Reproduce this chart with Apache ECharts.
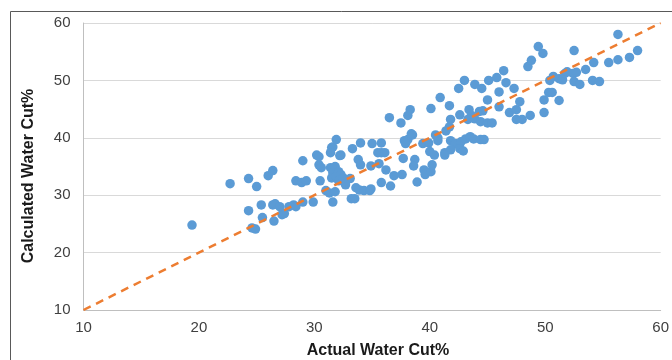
<!DOCTYPE html>
<html>
<head>
<meta charset="utf-8">
<script src="https://cdn.jsdelivr.net/npm/echarts@6/dist/echarts.min.js"></script>
<style>
  html, body { margin: 0; padding: 0; background: #ffffff; }
  #chart { width: 672px; height: 360px; }
</style>
</head>
<body>
<div id="chart"></div>
<script>
// Measured water cut (%) for each sample
const actualCut = [
  19.4, 22.7, 24.3, 25.0, 26.0, 26.4, 24.3, 25.4, 25.5, 24.6, 24.9, 26.4, 26.6, 27.0, 26.5, 27.2, 27.4, 27.8, 28.2, 28.4,
  28.4, 28.9, 29.3, 29.0, 29.0, 29.9, 30.2, 30.4, 30.4, 30.6, 30.5, 31.5, 31.6, 31.4, 31.9, 32.3, 33.3, 31.0, 31.3, 31.6,
  31.8, 31.4, 31.6, 31.8, 32.1, 31.5, 31.9, 32.3, 32.1, 32.7, 33.1, 32.7, 33.2, 33.5, 33.6, 33.8, 32.2, 32.5, 34.0, 35.0,
  34.0, 33.9, 34.3, 34.8, 35.5, 35.8, 36.1, 35.6, 35.8, 34.9, 36.2, 35.8, 36.6, 36.9, 37.6, 36.5, 37.5, 38.1, 38.3, 40.1,
  37.7, 37.8, 38.1, 38.5, 38.7, 38.6, 38.9, 39.4, 39.9, 39.5, 39.6, 40.1, 40.2, 40.0, 40.4, 40.5, 40.7, 41.3, 34.9, 37.9,
  38.4, 40.7, 40.9, 41.7, 42.5, 43.0, 43.9, 44.5, 45.1, 45.8, 46.4, 46.6, 46.0, 47.3, 45.0, 46.0, 42.6, 43.4, 43.6, 44.3,
  44.6, 43.3, 43.9, 44.4, 45.0, 45.4, 41.8, 41.7, 41.4, 41.8, 42.2, 42.7, 43.1, 43.5, 43.8, 44.4, 44.7, 41.8, 41.3, 42.6,
  42.9, 46.9, 47.5, 47.8, 47.5, 48.0, 48.7, 48.5, 48.8, 49.4, 49.8, 49.9, 50.3, 50.6, 51.2, 49.9, 50.4, 50.7, 51.2, 51.5,
  51.7, 51.9, 52.4, 52.7, 52.5, 53.0, 52.5, 53.5, 54.2, 54.1, 54.7, 55.5, 56.3, 57.3, 58.0, 56.3
];

// Model-calculated water cut (%) for the same samples
const calculatedCut = [
  24.8, 32.0, 32.9, 31.5, 33.4, 34.3, 27.3, 28.3, 26.1, 24.3, 24.1, 28.3, 28.5, 28.0, 25.5, 26.6, 26.8, 28.0, 28.3, 28.0,
  32.5, 32.2, 32.5, 36.0, 28.8, 28.8, 37.0, 36.7, 35.3, 34.8, 32.5, 38.3, 38.4, 37.4, 39.7, 37.0, 38.1, 30.8, 30.4, 28.8,
  30.6, 34.8, 33.9, 35.0, 34.1, 33.0, 33.2, 33.6, 32.5, 32.7, 32.9, 31.8, 29.4, 29.4, 31.3, 36.2, 36.9, 33.0, 39.1, 39.0,
  35.3, 30.9, 30.8, 30.8, 37.4, 37.4, 37.4, 35.5, 39.1, 35.1, 34.4, 32.2, 31.6, 33.4, 33.6, 43.5, 42.6, 43.9, 44.9, 45.1,
  36.4, 39.5, 39.7, 40.5, 36.2, 35.1, 32.3, 39.0, 39.1, 34.4, 33.6, 34.1, 35.3, 37.6, 37.0, 40.5, 40.0, 37.4, 31.1, 39.0,
  40.7, 39.5, 47.0, 45.6, 48.6, 50.0, 49.3, 48.6, 50.0, 50.5, 51.7, 49.6, 48.0, 48.6, 46.6, 45.4, 44.0, 44.9, 43.9, 44.6,
  44.7, 43.2, 43.3, 42.8, 42.6, 42.6, 43.2, 41.9, 41.2, 39.5, 39.0, 39.3, 39.8, 40.2, 39.8, 39.7, 39.7, 37.9, 37.0, 38.1,
  37.7, 44.4, 44.9, 46.3, 43.2, 43.2, 43.9, 52.4, 53.5, 55.9, 54.7, 46.6, 47.9, 47.9, 46.5, 44.4, 50.0, 50.7, 50.3, 50.1,
  51.2, 51.5, 51.2, 51.4, 49.8, 49.3, 55.2, 51.9, 53.1, 50.0, 49.8, 53.1, 53.6, 54.0, 55.2, 58.0
];

// Axis range and tick step shared by both axes (percent)
const axisRange = [10, 60];
const tickStep = 10;

const points = actualCut.map((x, i) => [x, calculatedCut[i]]);
// 1:1 reference line across the full axis range
const identityLine = axisRange.map(v => [v, v]);

const labelColor = '#404040';
const chart = echarts.init(document.getElementById('chart'), null, { renderer: 'canvas' });

const axisCommon = {
  type: 'value',
  min: axisRange[0],
  max: axisRange[1],
  interval: tickStep,
  axisLine: { show: true, lineStyle: { color: '#bfbfbf', width: 1 } },
  axisTick: { show: false },
  axisLabel: { color: labelColor, fontFamily: 'Liberation Sans, Arial, sans-serif', fontSize: 15 }
};

chart.setOption({
  animation: false,
  backgroundColor: '#ffffff',
  grid: { left: 83.5, right: 7, top: 23, bottom: 50, containLabel: false },
  xAxis: Object.assign({}, axisCommon, {
    splitLine: { show: false },
    axisLabel: Object.assign({}, axisCommon.axisLabel, { margin: 10 })
  }),
  yAxis: Object.assign({}, axisCommon, {
    splitLine: { show: true, lineStyle: { color: '#d9d9d9', width: 1 } },
    axisLabel: Object.assign({}, axisCommon.axisLabel, { margin: 13 })
  }),
  graphic: [
    {
      type: 'rect',
      shape: { x: 10.5, y: 11.5, width: 700, height: 400 },
      style: { fill: 'none', stroke: '#595959', lineWidth: 1 },
      silent: true
    },
    {
      type: 'text',
      x: 378, y: 351,
      style: {
        text: 'Actual Water Cut%',
        fill: '#1a1a1a',
        font: 'bold 16px "Liberation Sans", Arial, sans-serif',
        align: 'center',
        verticalAlign: 'middle'
      }
    },
    {
      type: 'text',
      x: 29, y: 176,
      rotation: Math.PI / 2,
      style: {
        text: 'Calculated Water Cut%',
        fill: '#1a1a1a',
        font: 'bold 16px "Liberation Sans", Arial, sans-serif',
        align: 'center',
        verticalAlign: 'middle'
      }
    }
  ],
  series: [
    {
      type: 'scatter',
      data: points,
      symbol: 'circle',
      symbolSize: 9.5,
      itemStyle: { color: '#5b9bd5', opacity: 1 },
      z: 3
    },
    {
      type: 'line',
      data: identityLine,
      symbol: 'none',
      lineStyle: { color: '#ed7d31', width: 2.5, type: [8, 6] },
      z: 4
    }
  ]
});
</script>
</body>
</html>
